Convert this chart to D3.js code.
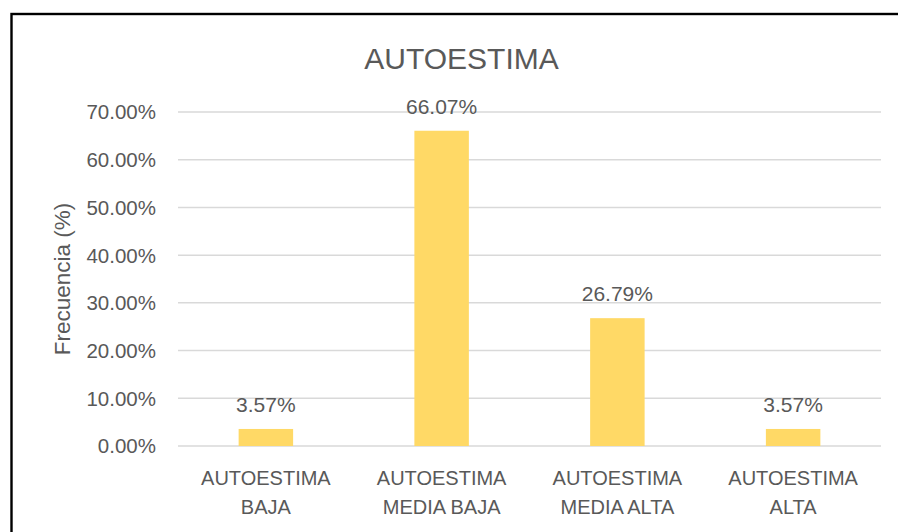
<!DOCTYPE html>
<html>
<head>
<meta charset="utf-8">
<script src="https://cdn.jsdelivr.net/npm/d3@7"></script>
<style>
  html, body { margin: 0; background: #fff; overflow: hidden; }
  svg { display: block; }
  text { font-family: "Liberation Sans", Arial, sans-serif; fill: #595959; }
</style>
</head>
<body>
<script>
// data
var categories = [["AUTOESTIMA", "BAJA"], ["AUTOESTIMA", "MEDIA BAJA"], ["AUTOESTIMA", "MEDIA ALTA"], ["AUTOESTIMA", "ALTA"]]
var values = [3.57, 66.07, 26.79, 3.57]
var ticks = [0, 10, 20, 30, 40, 50, 60, 70]

var width = 898, height = 532
var margin = {top: 112, right: 17, bottom: 86, left: 178}

var svg = d3.select("body").append("svg")
    .attr("width", width)
    .attr("height", height)

// frame (right and bottom edges fall outside the picture)
svg.append("rect")
    .attr("x", 11.5).attr("y", 14)
    .attr("width", 900).attr("height", 540)
    .attr("fill", "#fff")
    .attr("stroke", "#000")
    .attr("stroke-width", 2.4)

var x = d3.scaleBand()
    .domain(d3.range(categories.length))
    .range([margin.left, width - margin.right])
    .paddingInner(0.69)
    .paddingOuter(0.345)

var y = d3.scaleLinear()
    .domain([0, 70])
    .range([height - margin.bottom, margin.top])

// grid
svg.append("g")
    .selectAll("line")
    .data(ticks)
  .enter().append("line")
    .attr("x1", margin.left)
    .attr("x2", width - margin.right)
    .attr("y1", function(d) { return y(d); })
    .attr("y2", function(d) { return y(d); })
    .attr("stroke", "#d9d9d9")
    .attr("stroke-width", 1.5)

// y tick labels
svg.append("g")
    .selectAll("text")
    .data(ticks)
  .enter().append("text")
    .attr("x", 156)
    .attr("y", function(d) { return y(d); })
    .attr("dy", "0.36em")
    .attr("text-anchor", "end")
    .style("font-size", "20.5px")
    .text(function(d) { return d.toFixed(2) + "%"; })

// bars
svg.append("g")
    .selectAll("rect")
    .data(values)
  .enter().append("rect")
    .attr("x", function(d, i) { return x(i); })
    .attr("y", function(d) { return y(d); })
    .attr("width", x.bandwidth())
    .attr("height", function(d) { return y(0) - y(d); })
    .attr("fill", "#ffd966")

// value labels
svg.append("g")
    .selectAll("text")
    .data(values)
  .enter().append("text")
    .attr("x", function(d, i) { return x(i) + x.bandwidth() / 2; })
    .attr("y", function(d) { return y(d) - 17; })
    .attr("text-anchor", "middle")
    .style("font-size", "21px")
    .text(function(d) { return d.toFixed(2) + "%"; })

// category labels
var cat = svg.append("g")
    .selectAll("text")
    .data(categories)
  .enter().append("text")
    .attr("text-anchor", "middle")
    .style("font-size", "20px")

cat.selectAll("tspan")
    .data(function(d, i) { return d.map(function(s) { return {s: s, i: i}; }); })
  .enter().append("tspan")
    .attr("x", function(d) { return x(d.i) + x.bandwidth() / 2; })
    .attr("y", function(d, j) { return 485 + j * 29; })
    .text(function(d) { return d.s; })

// title
svg.append("text")
    .attr("x", 461.5)
    .attr("y", 68.5)
    .attr("text-anchor", "middle")
    .style("font-size", "30px")
    .text("AUTOESTIMA")

// y axis title
svg.append("text")
    .attr("transform", "translate(70,279) rotate(-90)")
    .attr("text-anchor", "middle")
    .style("font-size", "22.5px")
    .text("Frecuencia (%)")
</script>
</body>
</html>
